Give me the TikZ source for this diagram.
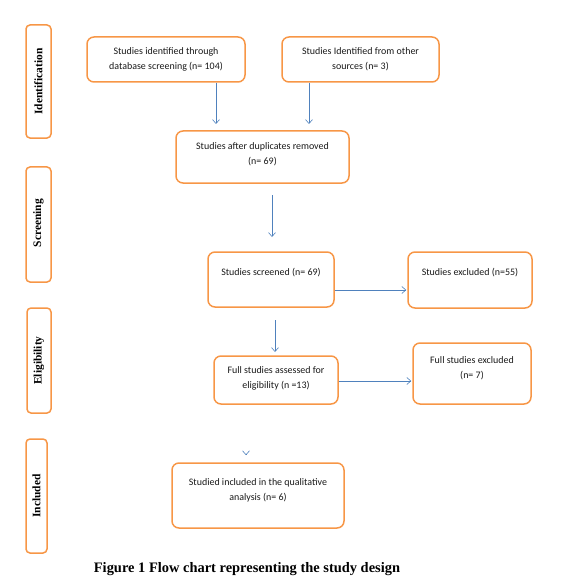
\documentclass[tikz,border=0pt]{standalone}
\usepackage{fontspec}
\setmainfont{Liberation Serif}
\newfontfamily\boxfont{Carlito}
\usetikzlibrary{arrows.meta}
\definecolor{boxorange}{HTML}{F79646}
\definecolor{arrowblue}{HTML}{4F81BD}
\begin{document}
\begin{tikzpicture}[x=1bp,y=-1bp,
  stepbox/.style={draw=boxorange, line width=1.5bp, rounded corners=7bp, inner sep=0pt},
  phasebox/.style={draw=boxorange, line width=1.5bp, rounded corners=4bp, inner sep=0pt},
  boxtext/.style={font=\boxfont\fontsize{10}{15}\selectfont, align=center, inner sep=0pt, text=black!90},
  phasetext/.style={font=\fontsize{11.5}{13}\selectfont\bfseries, rotate=90, inner sep=0pt},
  arr/.style={draw=arrowblue, line width=0.6bp, -{Straight Barb[length=4bp,width=7bp]}}
]
\useasboundingbox (0,0) rectangle (584,585);
% phase boxes
\node[phasebox, minimum width=25bp, minimum height=113bp] (P1) at (38.5,81.5) {};
\node[phasebox, minimum width=25bp, minimum height=115bp] (P2) at (38.5,224.5) {};
\node[phasebox, minimum width=24bp, minimum height=105bp] (P3) at (39,360.5) {};
\node[phasebox, minimum width=21bp, minimum height=114bp] (P4) at (36.5,496) {};
\node[phasetext] (P1t) at (P1) {Identification};
\node[phasetext] (P2t) at (38.5,223) {Screening};
\node[phasetext] (P3t) at (P3) {Eligibility};
\node[phasetext] (P4t) at (P4) {Included};
% step boxes
\node[stepbox, minimum width=158bp, minimum height=45bp] (A) at (166,59.5) {};
\node[stepbox, minimum width=157bp, minimum height=45bp] (B) at (360.5,59.5) {};
\node[stepbox, minimum width=173bp, minimum height=52bp] (C) at (262.5,157) {};
\node[stepbox, minimum width=126bp, minimum height=55bp] (D) at (271,279.5) {};
\node[stepbox, minimum width=124bp, minimum height=56bp] (E) at (470,280) {};
\node[stepbox, minimum width=124bp, minimum height=48bp] (F) at (276,380) {};
\node[stepbox, minimum width=118bp, minimum height=61bp] (G) at (472,373.5) {};
\node[stepbox, minimum width=172bp, minimum height=65bp] (H) at (258,495.5) {};
% texts
\node[boxtext] (At) at (166,59.5) {Studies identified through\\database screening (n= 104)};
\node[boxtext] (Bt) at (360.5,59.5) {Studies Identified from other\\sources (n= 3)};
\node[boxtext] (Ct) at (262.5,154) {Studies after duplicates removed\\(n= 69)};
\node[boxtext] (Dt) at (271,273) {Studies screened (n= 69)};
\node[boxtext] (Et) at (470,273) {Studies excluded (n=55)};
\node[boxtext] (Ft) at (276,378.5) {Full studies assessed for\\eligibility (n =13)};
\node[boxtext] (Gt) at (472,368.5) {Full studies excluded\\(n= 7)};
\node[boxtext] (Ht) at (258,490.5) {Studied included in the qualitative\\analysis (n= 6)};
% arrow end points
\coordinate (a1) at (216,124);
\coordinate (b1) at (309,124);
\coordinate (c0) at (272,195);
\coordinate (c1) at (272,237);
\coordinate (d0) at (275,320);
\coordinate (d1) at (275,352);
\coordinate (h0) at (246,454.6);
\coordinate (h1) at (246,455.2);
\draw[arr] (A.south -| a1) -- (a1);
\draw[arr] (B.south -| b1) -- (b1);
\draw[arr] (c0) -- (c1);
\draw[arr] (d0) -- (d1);
\draw[arr] (D.east |- 0,290) -- ([xshift=-1bp]E.west |- 0,290);
\draw[arr] (F.east |- 0,381) -- ([xshift=-1bp]G.west |- 0,381);
\draw[arr] (h0) -- (h1);
% caption
\node[font=\fontsize{14.5}{17}\selectfont\bfseries, inner sep=0pt] (cap) at (247,569) {Figure 1 Flow chart representing the study design};
\end{tikzpicture}
\end{document}
